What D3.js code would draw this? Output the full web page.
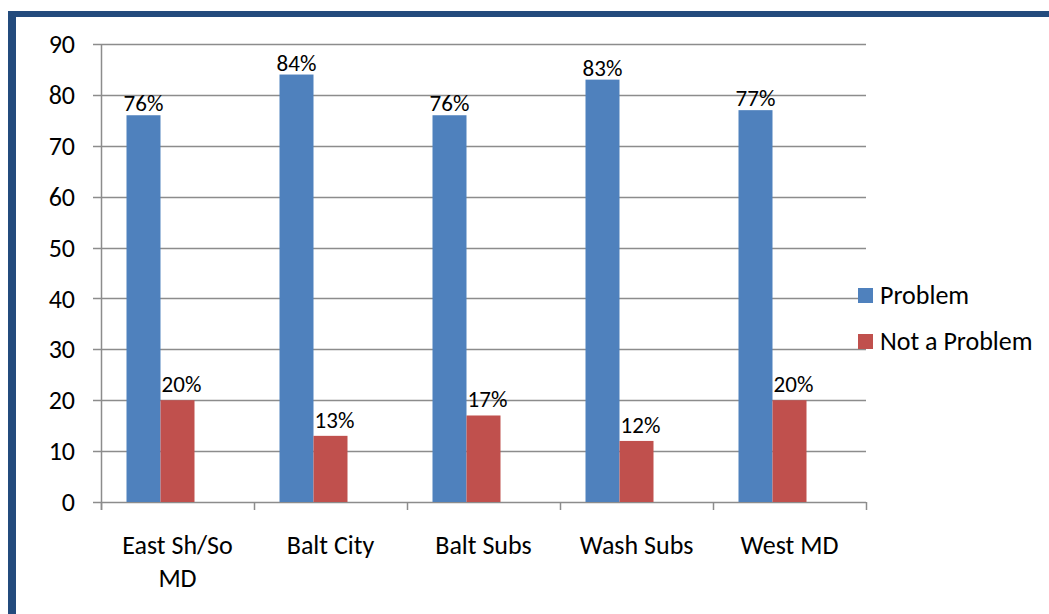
<!DOCTYPE html>
<html>
<head>
<meta charset="utf-8">
<script src="https://cdn.jsdelivr.net/npm/d3@7"></script>
<style>
  body { margin: 0; background: #fff; }
  text { font-family: Carlito, Lato, "Open Sans", sans-serif; fill: #000; }
</style>
</head>
<body>
<script>
// regions along the x axis (first entry wraps onto two lines)
const regions = [['East Sh/So', 'MD'], ['Balt City'], ['Balt Subs'], ['Wash Subs'], ['West MD']];
const seriesNames = ['Problem', 'Not a Problem'];
const problem = [76, 84, 76, 83, 77];
const notProblem = [20, 13, 17, 12, 20];
const yTicks = [0, 10, 20, 30, 40, 50, 60, 70, 80, 90];
const colors = ['#4f81bd', '#c0504d'];

const width = 1049, height = 614;
const svg = d3.select('body').append('svg')
  .attr('width', width)
  .attr('height', height);

// dark blue frame, clipped on the right and bottom
svg.append('rect')
  .attr('x', 11).attr('y', 14)
  .attr('width', width + 20).attr('height', height + 20)
  .attr('fill', 'none')
  .attr('stroke', '#234b7d')
  .attr('stroke-width', 6);
svg.append('rect')
  .attr('x', 8).attr('y', 11)
  .attr('width', 8).attr('height', height)
  .attr('fill', '#234b7d');

const plot = { left: 101, right: 866, top: 44, bottom: 502 };

const x = d3.scaleBand()
  .domain(d3.range(regions.length))
  .range([plot.left, plot.right]);

// the source chart reserves a third (empty) series slot, so bars sit left of centre
const slot = d3.scaleBand()
  .domain([0, 1, 2])
  .range([0, x.bandwidth()])
  .paddingOuter(0.75);

const y = d3.scaleLinear()
  .domain([0, 90])
  .range([plot.bottom, plot.top]);

const g = svg.append('g');

// gridlines
g.selectAll('line.grid')
  .data(yTicks)
  .join('line')
  .attr('class', 'grid')
  .attr('x1', plot.left - 8)
  .attr('x2', plot.right)
  .attr('y1', (d) => Math.round(y(d)) + 0.5)
  .attr('y2', (d) => Math.round(y(d)) + 0.5)
  .attr('stroke', '#8c8c8c')
  .attr('stroke-width', 1.5);

// y labels
g.selectAll('text.ytick')
  .data(yTicks)
  .join('text')
  .attr('class', 'ytick')
  .attr('x', 75)
  .attr('y', (d) => y(d))
  .attr('dy', '0.35em')
  .attr('text-anchor', 'end')
  .style('font-size', '26px')
  .text((d) => d);

// y axis line
g.append('line')
  .attr('x1', plot.left + 0.5).attr('x2', plot.left + 0.5)
  .attr('y1', plot.top).attr('y2', plot.bottom + 8)
  .attr('stroke', '#8c8c8c')
  .attr('stroke-width', 1.5);

// x ticks between categories
const xTickPos = d3.range(regions.length + 1).map((i) => plot.left + i * x.bandwidth());
g.selectAll('line.xtick')
  .data(xTickPos)
  .join('line')
  .attr('class', 'xtick')
  .attr('x1', (d) => Math.round(d) + 0.5)
  .attr('x2', (d) => Math.round(d) + 0.5)
  .attr('y1', plot.bottom)
  .attr('y2', plot.bottom + 8)
  .attr('stroke', '#8c8c8c')
  .attr('stroke-width', 1.5);

// bars
const barW = slot.bandwidth();
const series = [problem, notProblem];
series.forEach((vals, s) => {
  const bx = (i) => x(i) + slot(s);
  g.selectAll('rect.s' + s)
    .data(vals)
    .join('rect')
    .attr('class', 's' + s)
    .attr('x', (d, i) => bx(i))
    .attr('y', (d) => y(d))
    .attr('width', barW)
    .attr('height', (d) => y(0) - y(d))
    .attr('fill', colors[s]);

  g.selectAll('text.lab' + s)
    .data(vals)
    .join('text')
    .attr('class', 'lab' + s)
    .attr('x', (d, i) => bx(i) + barW / 2 + (s === 0 ? 0 : 4))
    .attr('y', (d) => y(d) - (s === 0 ? 4 : 8))
    .attr('text-anchor', 'middle')
    .style('font-size', '23px')
    .text((d) => d + '%');
});

// category labels
const cat = g.selectAll('text.cat')
  .data(regions)
  .join('text')
  .attr('class', 'cat')
  .attr('text-anchor', 'middle')
  .style('font-size', '26px')
  .attr('transform', (d, i) => `translate(${x(i) + x.bandwidth() / 2},554)`);
cat.selectAll('tspan')
  .data((d) => d)
  .join('tspan')
  .attr('x', 0)
  .attr('dy', (d, i) => (i === 0 ? 0 : 33))
  .text((d) => d);

// legend
const legend = svg.append('g')
  .selectAll('g')
  .data(seriesNames)
  .join('g')
  .attr('transform', (d, i) => `translate(858,${288 + i * 46})`);
legend.append('rect')
  .attr('width', 15).attr('height', 15)
  .attr('fill', (d, i) => colors[i]);
legend.append('text')
  .attr('x', 22).attr('y', 7)
  .attr('dy', '0.35em')
  .style('font-size', '26px')
  .text((d) => d);
</script>
</body>
</html>
